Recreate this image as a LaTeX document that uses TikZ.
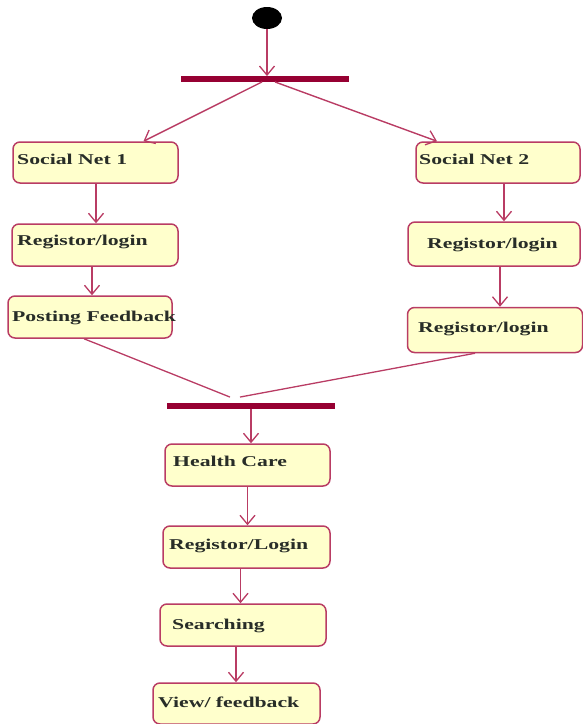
\documentclass[tikz,border=0pt]{standalone}
\usepackage{fontspec}
\setmainfont{Liberation Serif}
\usetikzlibrary{arrows.meta,shapes.geometric}
\definecolor{edge}{RGB}{185,60,100}
\definecolor{barc}{RGB}{150,0,50}
\definecolor{fillc}{RGB}{255,255,204}
\definecolor{txt}{RGB}{40,45,40}
\newcommand{\lbltext}[1]{\scalebox{1.45}[1]{\bfseries #1}}
\tikzset{
  box/.style={draw=edge, line width=1.5pt, fill=fillc, rounded corners=7pt, inner sep=0pt},
  lbl/.style={anchor=west, inner sep=0pt, text=txt, font=\fontsize{15}{17}\selectfont},
  bar/.style={fill=barc, draw=none, inner sep=0pt},
  flow/.style={draw=edge, line width=1.4pt, -{Straight Barb[length=9pt,width=15pt,line width=1.3pt]}},
  plain/.style={draw=edge, line width=1.3pt},
}
\begin{document}
\begin{tikzpicture}[x=1pt,y=-1pt]
\useasboundingbox (0,0) rectangle (582,724);
% start
\node[fill=black, ellipse, minimum width=30pt, minimum height=22pt, inner sep=0pt] (start) at (267,18) {};
% bars
\node[bar, minimum width=168pt, minimum height=5.5pt] (fork) at (265,79) {};
\node[bar, minimum width=168pt, minimum height=5.5pt] (join) at (251,406) {};
% boxes
\node[box, minimum width=165pt, minimum height=41pt] (sn1) at (95.5,162.5) {};
\node[lbl] (sn1t) at (17,159) {\lbltext{Social Net 1}};
\node[box, minimum width=164pt, minimum height=41pt] (sn2) at (498,162.5) {};
\node[lbl] (sn2t) at (419,159) {\lbltext{Social Net 2}};
\node[box, minimum width=166pt, minimum height=42pt] (r1) at (95,245) {};
\node[lbl] (r1t) at (17,242) {\lbltext{Registor/login}};
\node[box, minimum width=164pt, minimum height=42pt] (pf) at (90,317) {};
\node[lbl] (pft) at (12,318) {\lbltext{Posting Feedback}};
\node[box, minimum width=172pt, minimum height=44pt] (r2) at (494,244) {};
\node[lbl] (r2t) at (427,245) {\lbltext{Registor/login}};
\node[box, minimum width=175pt, minimum height=45pt] (r3) at (495,330) {};
\node[lbl] (r3t) at (418,329) {\lbltext{Registor/login}};
\node[box, minimum width=165pt, minimum height=42pt] (hc) at (247.5,465) {};
\node[lbl] (hct) at (173,461) {\lbltext{Health Care}};
\node[box, minimum width=167pt, minimum height=42pt] (rl) at (246.5,547) {};
\node[lbl] (rlt) at (169,546) {\lbltext{Registor/Login}};
\node[box, minimum width=166pt, minimum height=42pt] (se) at (243,625) {};
\node[lbl] (set) at (172,626) {\lbltext{Searching}};
\node[box, minimum width=167pt, minimum height=41pt] (vf) at (236.5,703.5) {};
\node[lbl] (vft) at (158,702) {\lbltext{View/ feedback}};
% connectors
\draw[flow] (start.south) -- (start.south |- fork.north);
\draw[flow] ([xshift=-3pt]fork.south) -- ([xshift=48pt]sn1.north);
\draw[flow] ([xshift=10pt]fork.south) -- ([xshift=-61pt]sn2.north);
\draw[flow] ([xshift=0.5pt]sn1.south) -- ([xshift=0.5pt]sn1.south |- r1.north);
\draw[flow] ([xshift=-3pt]r1.south) -- ([xshift=-3pt]r1.south |- pf.north);
\draw[flow] ([xshift=6pt]sn2.south) -- ([xshift=6pt]sn2.south |- r2.north);
\draw[flow] ([xshift=6pt]r2.south) -- ([xshift=6pt]r2.south |- r3.north);
\draw[plain] ([xshift=-6pt]pf.south) -- ([xshift=-21pt,yshift=6pt]join.north);
\draw[plain] ([xshift=-20pt]r3.south) -- ([xshift=-11pt,yshift=6pt]join.north);
\draw[flow] (join.south) -- (join.south |- hc.north);
\draw[flow] ([xshift=0pt]hc.south) -- ([xshift=0pt]hc.south |- rl.north);
\draw[flow] ([xshift=-6pt]rl.south) -- ([xshift=-6pt]rl.south |- se.north);
\draw[flow] ([xshift=-7pt]se.south) -- ([xshift=-7pt]se.south |- vf.north);
\end{tikzpicture}
\end{document}
